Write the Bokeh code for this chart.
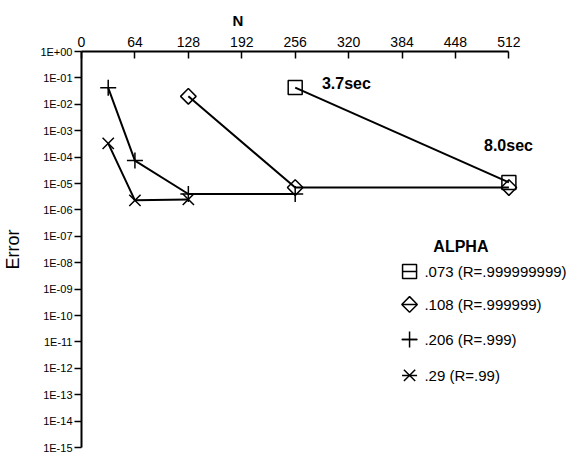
import numpy as np
from bokeh.plotting import figure
from bokeh.models import (FixedTicker, CustomJSTickFormatter, Range1d, Label,
                          AllLabels)
from bokeh.core.properties import value
from bokeh.embed import file_html
from bokeh.resources import INLINE

# ---- data ----
n_073 = [256, 512]
e_073 = [4.3e-2, 1.1e-5]
n_108 = [128, 256, 512]
e_108 = [2.0e-2, 7.0e-6, 7.0e-6]
n_206 = [32, 64, 128, 256]
e_206 = [4.2e-2, 7.4e-5, 4.0e-6, 4.0e-6]
n_29 = [32, 64, 128]
e_29 = [3.3e-4, 2.3e-6, 2.5e-6]

x_ticks = [0, 64, 128, 192, 256, 320, 384, 448, 512]
y_ticks = [10.0 ** (-k) for k in range(16)]

legend_labels = [".073 (R=.999999999)", ".108 (R=.999999)", ".206 (R=.999)", ".29  (R=.99)"]

FONT = "Liberation Sans"

p = figure(width=572, height=453, output_backend="svg", toolbar_location=None,
           x_range=Range1d(0, 583.4), y_range=Range1d(1e-15, 1),
           y_axis_type="log", x_axis_location="above",
           min_border_left=0, min_border_right=4, min_border_top=51,
           min_border_bottom=6)
p.outline_line_color = None
p.xgrid.visible = False
p.ygrid.visible = False
p.background_fill_color = "white"

p.title.text = "N"
p.title.align = "left"
p.title.offset = 151
p.title.standoff = 9
p.title.text_font = FONT
p.title.text_font_size = "15px"
p.title.text_font_style = "bold"
p.title.text_color = "black"

xa = p.xaxis[0]
xa.ticker = FixedTicker(ticks=x_ticks)
xa.bounds = (0, 512)
xa.major_label_policy = AllLabels()
xa.axis_line_width = 2
xa.major_tick_in = 7
xa.major_tick_out = 0
xa.major_tick_line_width = 1.5
xa.minor_tick_line_color = None
xa.major_label_standoff = 5
xa.major_label_text_font = FONT
xa.major_label_text_font_size = "14px"
xa.major_label_text_color = "black"

ya = p.yaxis[0]
ya.ticker = FixedTicker(ticks=y_ticks)
ya.major_label_policy = AllLabels()
ya.formatter = CustomJSTickFormatter(code="""
const e = Math.round(Math.log10(tick));
const s = e < 0 ? "-" : "+";
const a = Math.abs(e);
return "1E" + s + (a < 10 ? "0" + a : "" + a);
""")
ya.axis_line_width = 2
ya.major_tick_in = 0
ya.major_tick_out = 7
ya.major_tick_line_width = 1.5
ya.minor_tick_line_color = None
ya.major_label_standoff = 2
ya.major_label_text_font = FONT
ya.major_label_text_font_size = "11px"
ya.major_label_text_color = "black"
ya.axis_label = "Error"
ya.axis_label_text_font = FONT
ya.axis_label_text_font_size = "18px"
ya.axis_label_text_font_style = "normal"
ya.axis_label_standoff = 14
ya.axis_label_text_color = "black"

lw = 2
mk = dict(line_color="black", line_width=1.5, fill_color=None)
styles = [dict(marker="square", size=14, angle=0.0),
          dict(marker="square", size=11, angle=np.pi / 4),
          dict(marker="cross", size=16, angle=0.0),
          dict(marker="x", size=16, angle=0.0)]
series = [(n_073, e_073), (n_108, e_108), (n_206, e_206), (n_29, e_29)]

for (xs, ys), st in zip(series, styles):
    p.line(xs, ys, line_color="black", line_width=lw)
    p.scatter(xs, ys, **st, **mk)

# ---- hand-built legend (layout positions in data space) ----
leg_x = 393.0               # marker centre
leg_half = 9.0              # half width of the short line through a marker
leg_text_x = 410.8
leg_log_y = [-8.33, -9.58, -10.91, -12.27]
for lab_txt, st, ly in zip(legend_labels, styles, leg_log_y):
    yy = 10.0 ** ly
    p.segment(x0=[leg_x - leg_half], y0=[yy], x1=[leg_x + leg_half], y1=[yy],
              line_color="black", line_width=1.5)
    p.scatter([leg_x], [yy], **st, **mk)
    p.text(x=[leg_text_x], y=[yy], text=[lab_txt], text_font=value(FONT),
           text_font_size="15px", text_baseline="middle", text_align="left",
           text_color="black")

def lab(txt, x, ly, size):
    p.add_layout(Label(x=x, y=10.0 ** ly, text=txt, text_font=FONT,
                       text_font_size=size, text_font_style="bold",
                       text_align="left", text_baseline="middle",
                       text_color="black"))

lab("3.7sec", 288, -1.21, "16px")
lab("8.0sec", 482.2, -3.56, "16px")
lab("ALPHA", 421.5, -7.39, "16px")

open("out.html", "w").write(file_html(p, INLINE))
